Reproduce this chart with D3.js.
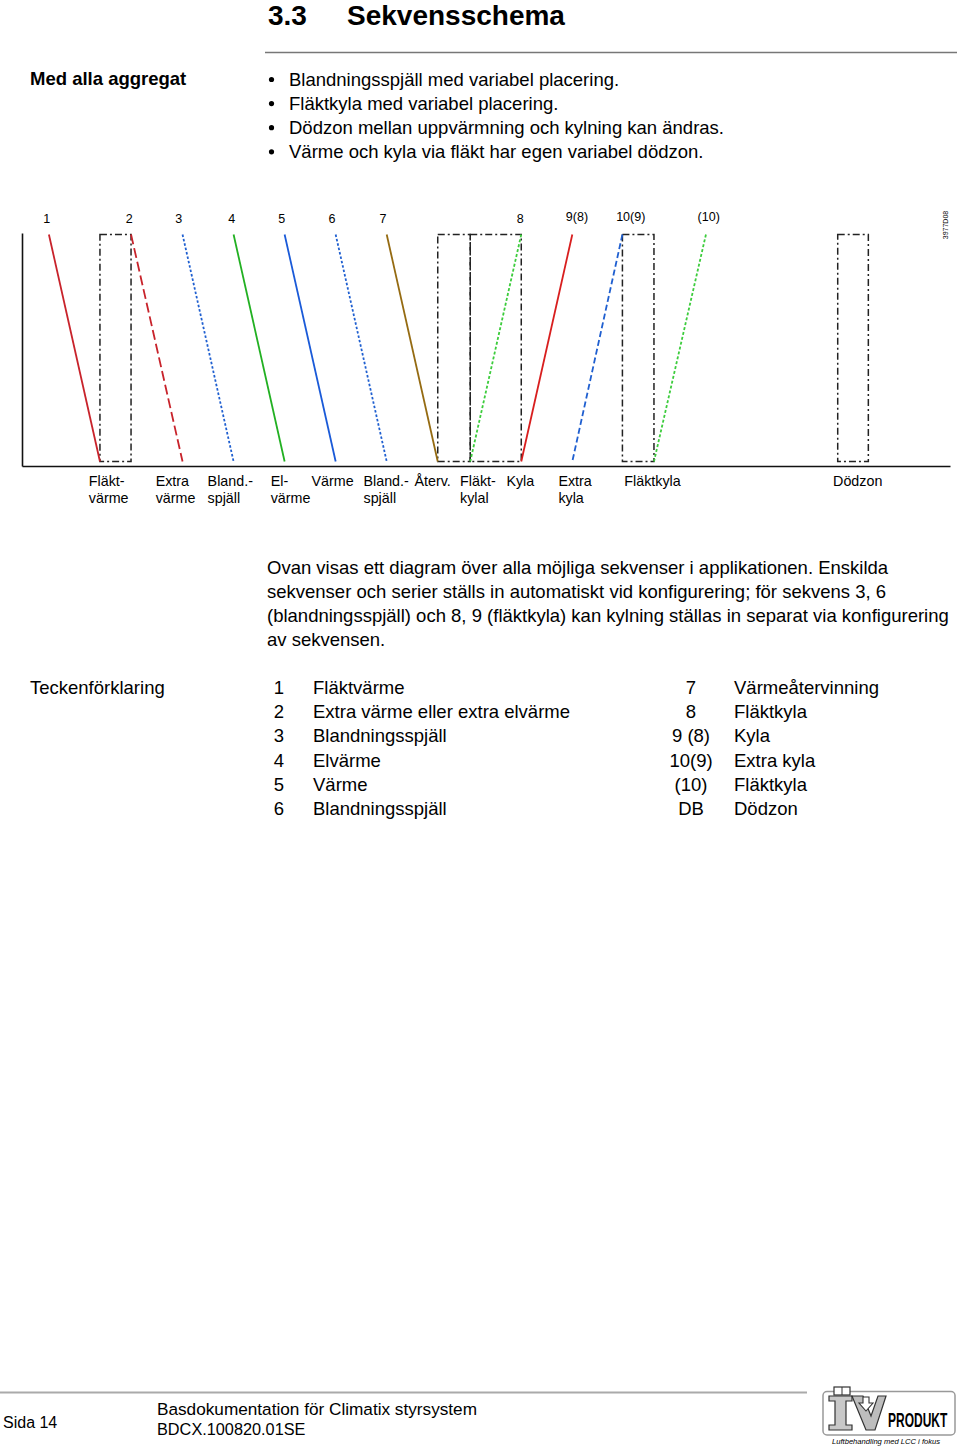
<!DOCTYPE html>
<html>
<head>
<meta charset="utf-8">
<script src="https://cdn.jsdelivr.net/npm/d3@7"></script>
<style>
  html, body { margin: 0; padding: 0; background: #fff; }
  svg { display: block; }
  text { font-family: "Liberation Sans", Arial, sans-serif; fill: #000; }
</style>
</head>
<body>
<div id="chart"></div>
<script>
// ---------- DATA ----------
// Sequence lines: position (in % of the control signal range) where output is 100% and 0%
const seqIds   = ["1", "2", "3", "4", "5", "6", "7", "8", "9(8)", "10(9)", "(10)"];
const seqFull  = [2.9, 11.75, 17.3, 22.8, 28.3, 33.8, 39.3, 53.8, 59.3, 64.7, 73.7];
const seqZero  = [8.4, 17.3, 22.8, 28.3, 33.8, 39.3, 44.8, 48.3, 53.8, 59.3, 68.1];
const seqColor = ["#c8232b", "#c8232b", "#1f5fd0", "#22b022", "#1a5ad8", "#1f5fd0", "#956b12", "#3ccc3c", "#d81e1e", "#1f5fd0", "#3ccc3c"];
const seqDash  = ["none", "10,4", "2.5,2", "none", "none", "2.5,2", "none", "3,2", "none", "6,3", "3,2"];
const seqLabelPos = [2.66, 11.56, 16.9, 22.6, 28.0, 33.4, 38.9, 53.7, 59.8, 65.6, 74.0];

// Dead bands (dash-dot boxes)
const dbStart = [8.4, 44.8, 48.3, 64.7, 87.9];
const dbEnd   = [11.75, 48.3, 53.8, 68.1, 91.2];

// Zone labels under the axis
const zoneLabels = [["Fläkt-","värme"],["Extra","värme"],["Bland.-","spjäll"],["El-","värme"],["Värme"],["Bland.-","spjäll"],["Återv."],["Fläkt-","kylal"],["Kyla"],["Extra","kyla"],["Fläktkyla"],["Dödzon"]];
const zoneLabelPos = [7.2, 14.4, 20.0, 26.8, 31.2, 36.8, 42.3, 47.2, 52.2, 57.8, 64.9, 87.4];

// Text content
const bullets = [
  "Blandningsspjäll med variabel placering.",
  "Fläktkyla med variabel placering.",
  "Dödzon mellan uppvärmning och kylning kan ändras.",
  "Värme och kyla via fläkt har egen variabel dödzon."
];
const paragraph = [
  "Ovan visas ett diagram över alla möjliga sekvenser i applikationen. Enskilda",
  "sekvenser och serier ställs in automatiskt vid konfigurering; för sekvens 3, 6",
  "(blandningsspjäll) och 8, 9 (fläktkyla) kan kylning ställas in separat via konfigurering",
  "av sekvensen."
];
const legendLeftNum  = ["1","2","3","4","5","6"];
const legendLeftTxt  = ["Fläktvärme","Extra värme eller extra elvärme","Blandningsspjäll","Elvärme","Värme","Blandningsspjäll"];
const legendRightNum = ["7","8","9 (8)","10(9)","(10)","DB"];
const legendRightTxt = ["Värmeåtervinning","Fläktkyla","Kyla","Extra kyla","Fläktkyla","Dödzon"];

// ---------- DRAW ----------
const W = 960, H = 1447;
const svg = d3.select("#chart").append("svg").attr("width", W).attr("height", H);
svg.append("rect").attr("width", W).attr("height", H).attr("fill", "#fff");

// Header
svg.append("text").attr("x", 268).attr("y", 25).attr("font-size", 28).attr("font-weight", "bold").text("3.3");
svg.append("text").attr("x", 347).attr("y", 25).attr("font-size", 28).attr("font-weight", "bold").text("Sekvensschema");
svg.append("line").attr("x1", 265).attr("x2", 957).attr("y1", 52.5).attr("y2", 52.5).attr("stroke", "#777").attr("stroke-width", 1.5);

svg.append("text").attr("x", 30).attr("y", 84.5).attr("font-size", 18.5).attr("font-weight", "bold").text("Med alla aggregat");
const bl = svg.append("g");
bullets.forEach((b, i) => {
  const yy = 85.5 + i * 24.1;
  bl.append("circle").attr("cx", 271.5).attr("cy", yy - 6).attr("r", 2.6).attr("fill", "#000");
  bl.append("text").attr("x", 289).attr("y", yy).attr("font-size", 18.5).text(b);
});

// Chart
const x = d3.scaleLinear().domain([0, 100]).range([22, 950]);
const y = d3.scaleLinear().domain([0, 100]).range([461.5, 234.5]);
const yAxisScale = d3.scaleLinear().domain([0, 100]).range([466, 233]);

const g = svg.append("g");

// axes (no ticks)
const xAxis = g.append("g").attr("transform", "translate(0,466)")
  .call(d3.axisBottom(x).tickValues([]).tickSizeOuter(0));
const yAxis = g.append("g").attr("transform", "translate(22,0)")
  .call(d3.axisLeft(yAxisScale).tickValues([]).tickSizeOuter(0));
[xAxis, yAxis].forEach(a => a.select(".domain").attr("stroke", "#111").attr("stroke-width", 1.6));

// dead band boxes
g.selectAll("rect.db").data(dbStart).enter().append("rect")
  .attr("class", "db")
  .attr("x", (d) => x(d))
  .attr("y", y(100))
  .attr("width", (d, i) => x(dbEnd[i]) - x(d))
  .attr("height", y(0) - y(100))
  .attr("fill", "none")
  .attr("stroke", "#222")
  .attr("stroke-width", 1.5)
  .attr("stroke-dasharray", "7,3,2,3");

// sequence lines
g.selectAll("line.seq").data(seqIds).enter().append("line")
  .attr("class", "seq")
  .attr("x1", (d, i) => x(seqFull[i]))
  .attr("y1", y(100))
  .attr("x2", (d, i) => x(seqZero[i]))
  .attr("y2", y(0))
  .attr("stroke", (d, i) => seqColor[i])
  .attr("stroke-width", 1.8)
  .attr("stroke-dasharray", (d, i) => seqDash[i]);

// top labels
g.selectAll("text.top").data(seqIds).enter().append("text")
  .attr("class", "top")
  .attr("x", (d, i) => x(seqLabelPos[i]))
  .attr("y", (d, i) => i < 8 ? 223 : 221)
  .attr("text-anchor", "middle")
  .attr("font-size", 12.5)
  .text(d => d);

// drawing id
svg.append("text").attr("transform", "translate(947.5,225) rotate(-90)")
  .attr("text-anchor", "middle").attr("font-size", 7).attr("fill", "#444").text("3977D08");

// zone labels
zoneLabels.forEach((lines, i) => {
  const t = g.append("text").attr("font-size", 14.3);
  lines.forEach((ln, j) => {
    t.append("tspan").attr("x", x(zoneLabelPos[i])).attr("y", 486 + j * 16.5).text(ln);
  });
});

// paragraph
paragraph.forEach((ln, i) => {
  svg.append("text").attr("x", 267).attr("y", 573.5 + i * 24.1).attr("font-size", 18.5).text(ln);
});

// legend
svg.append("text").attr("x", 30).attr("y", 694).attr("font-size", 18.5).text("Teckenförklaring");
legendLeftNum.forEach((n, i) => {
  const yy = 694 + i * 24.2;
  svg.append("text").attr("x", 279).attr("y", yy).attr("text-anchor", "middle").attr("font-size", 18.5).text(n);
  svg.append("text").attr("x", 313).attr("y", yy).attr("font-size", 18.5).text(legendLeftTxt[i]);
  svg.append("text").attr("x", 691).attr("y", yy).attr("text-anchor", "middle").attr("font-size", 18.5).text(legendRightNum[i]);
  svg.append("text").attr("x", 734).attr("y", yy).attr("font-size", 18.5).text(legendRightTxt[i]);
});

// footer
svg.append("line").attr("x1", 0).attr("x2", 807).attr("y1", 1392.5).attr("y2", 1392.5).attr("stroke", "#aaa").attr("stroke-width", 2);
svg.append("text").attr("x", 3).attr("y", 1427.5).attr("font-size", 16).text("Sida 14");
svg.append("text").attr("x", 157).attr("y", 1415).attr("font-size", 17.2).text("Basdokumentation för Climatix styrsystem");
svg.append("text").attr("x", 157).attr("y", 1435).attr("font-size", 16.3).text("BDCX.100820.01SE");

// logo
const lg = svg.append("g");
lg.append("rect").attr("x", 823).attr("y", 1391.5).attr("width", 132).attr("height", 43.5).attr("rx", 4)
  .attr("fill", "#fff").attr("stroke", "#999").attr("stroke-width", 1.5);
// I
lg.append("path").attr("d", "M829,1396 H852 V1401 H846 V1425 H852 V1430 H829 V1425 H835 V1401 H829 Z")
  .attr("fill", "#c8c8c8").attr("stroke", "#333").attr("stroke-width", 1.2);
lg.append("rect").attr("x", 834).attr("y", 1387).attr("width", 16).attr("height", 8).attr("fill", "#fff").attr("stroke", "#333").attr("stroke-width", 1.2);
lg.append("line").attr("x1", 842).attr("x2", 842).attr("y1", 1387).attr("y2", 1395).attr("stroke", "#333").attr("stroke-width", 1);
// V
lg.append("path").attr("d", "M852,1396 H863 L871,1416 L878,1396 H886 L875,1430 H866 Z")
  .attr("fill", "#bdbdbd").attr("stroke", "#333").attr("stroke-width", 1.2);
// arrow
lg.append("path").attr("d", "M863,1397 V1403 H859 L866,1411 L873,1403 H869 V1397 Z")
  .attr("fill", "#fff").attr("stroke", "#333").attr("stroke-width", 1.1);
lg.append("text").attr("transform", "translate(888,1427) scale(0.6,1)")
  .attr("font-size", 20).attr("font-weight", "bold").text("PRODUKT");
lg.append("text").attr("x", 832).attr("y", 1443.5).attr("font-size", 7.6).attr("font-style", "italic").text("Luftbehandling med LCC i fokus");
</script>
</body>
</html>
